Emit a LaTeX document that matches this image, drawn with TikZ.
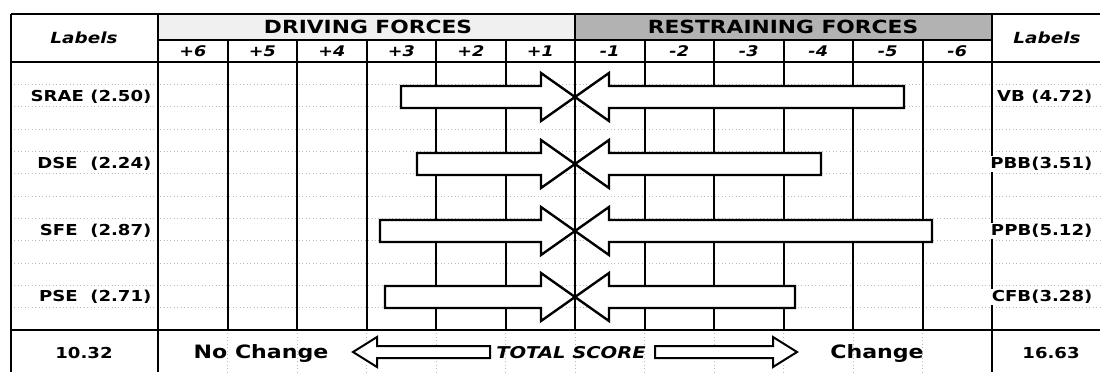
\documentclass[tikz,border=0pt]{standalone}
\usepackage{fontspec}
\setmainfont{DejaVu Sans}[FakeStretch=1.2]
\begin{document}
\begin{tikzpicture}[x=0.75pt,y=-0.75pt,
  gridline/.style={line width=1.5pt},
  faint/.style={gray!55, dotted, line width=0.6pt},
  arr/.style={draw, line width=1.8pt, fill=white, line join=miter},
  lbl/.style={font=\fontsize{11.3pt}{13pt}\selectfont\bfseries, inner sep=1pt},
  hdr/.style={font=\fontsize{13.6pt}{15pt}\selectfont\bfseries, inner sep=1pt},
  num/.style={font=\fontsize{11pt}{12pt}\selectfont\bfseries\itshape, inner sep=1pt},
  tot/.style={font=\fontsize{13.8pt}{15pt}\selectfont\bfseries, inner sep=1pt}]
\useasboundingbox (0,0) rectangle (1102,372);
% header bands
\fill[gray!12] (158,14) rectangle (575,40);
\fill[gray!60] (575,14) rectangle (992,40);
% faint dotted horizontal lines
\foreach \k in {1,...,11}{
  \draw[faint] (11,{62+22.33*\k}) -- (1100,{62+22.33*\k});
}
% faint dotted verticals in bottom row
\foreach \k in {1,...,11}{
  \draw[faint] ({158+69.5*\k},330) -- ({158+69.5*\k},372);
}
% main grid
\draw[gridline] (11,14) -- (1100,14);
\draw[gridline] (158,40) -- (992,40);
\draw[gridline] (11,62) -- (1100,62);
\draw[gridline] (11,330) -- (1100,330);
\draw[gridline] (11,14) -- (11,372);
\draw[gridline] (158,14) -- (158,372);
\draw[gridline] (992,14) -- (992,372);
\draw[gridline] (575,14) -- (575,330);
\foreach \k in {1,2,3,4,5,7,8,9,10,11}{
  \draw[gridline] ({158+69.5*\k},40) -- ({158+69.5*\k},330);
}
% header texts
\node[hdr] (drv) at (368,27) {DRIVING FORCES};
\node[hdr] (res) at (783,27) {RESTRAINING FORCES};
\node[num, font=\fontsize{11.5pt}{13pt}\selectfont\bfseries\itshape] (labL) at (84,38) {Labels};
\node[num, font=\fontsize{11.5pt}{13pt}\selectfont\bfseries\itshape] (labR) at (1047,38) {Labels};
\foreach \t [count=\k from 0] in {+6,+5,+4,+3,+2,+1,-1,-2,-3,-4,-5,-6}{
  \node[num] (n\k) at ({158+69.5*(\k+0.5)},51) {\t};
}
% driving arrows (pointing right)
\foreach \xl/\y in {401/97, 417/164, 380/231, 385/297}{
  \draw[arr] (\xl,\y-11) -- (541,\y-11) -- (541,\y-24) -- (575,\y)
     -- (541,\y+24) -- (541,\y+11) -- (\xl,\y+11) -- cycle;
}
% restraining arrows (pointing left)
\foreach \xr/\y in {904/97, 821/164, 932/231, 795/297}{
  \draw[arr] (\xr,\y-11) -- (609,\y-11) -- (609,\y-24) -- (575,\y)
     -- (609,\y+24) -- (609,\y+11) -- (\xr,\y+11) -- cycle;
}
% left labels
\node[lbl, anchor=east] (l1) at (153,97) {SRAE (2.50)};
\node[lbl, anchor=east] (l2) at (153,164) {DSE\ \ (2.24)};
\node[lbl, anchor=east] (l3) at (153,231) {SFE\ \ (2.87)};
\node[lbl, anchor=east] (l4) at (153,297) {PSE\ \ (2.71)};
% right labels
\node[lbl, anchor=east] (r1) at (1094,97) {VB (4.72)};
\node[lbl, anchor=east, fill=white] (r2) at (1094,164) {PBB(3.51)};
\node[lbl, anchor=east, fill=white] (r3) at (1094,231) {PPB(5.12)};
\node[lbl, anchor=east, fill=white] (r4) at (1094,297) {CFB(3.28)};
% bottom row
\node[lbl] (sL) at (84,353) {10.32};
\node[lbl] (sR) at (1051,353) {16.63};
\node[tot] (nc) at (261,353) {No Change};
\node[tot] (ch) at (877,353) {Change};
\node[num, font=\fontsize{12.2pt}{14pt}\selectfont\bfseries\itshape] (ts) at (571,353) {TOTAL SCORE};
\draw[arr, line width=1.5pt] (490,346) -- (377,346) -- (377,337) -- (353,352)
   -- (377,367) -- (377,358) -- (490,358) -- cycle;
\draw[arr, line width=1.5pt] (655,346) -- (773,346) -- (773,337) -- (797,352)
   -- (773,367) -- (773,358) -- (655,358) -- cycle;
\end{tikzpicture}
\end{document}
